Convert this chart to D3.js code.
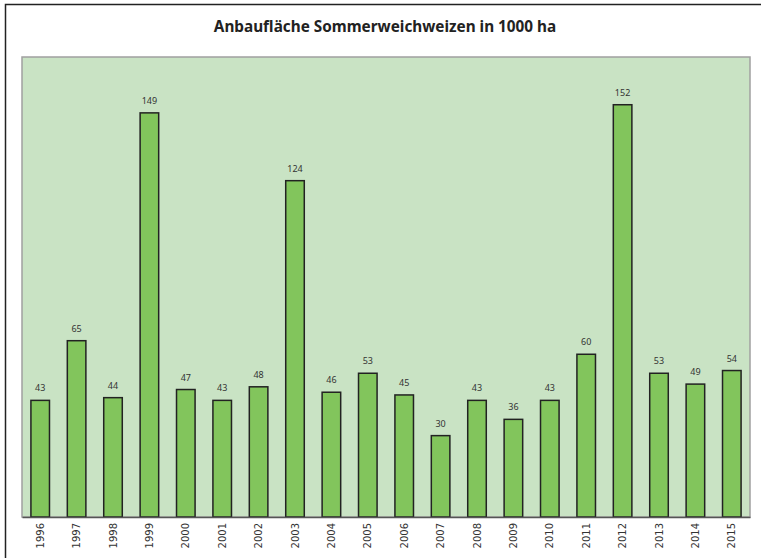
<!DOCTYPE html>
<html>
<head>
<meta charset="utf-8">
<script src="https://cdn.jsdelivr.net/npm/d3@7"></script>
<style>
  body { margin: 0; background: #fff; }
  svg { display: block; font-family: "Noto Sans", "DejaVu Sans", sans-serif; }
</style>
</head>
<body>
<svg id="chart"></svg>
<script>
// data
var years = ["1996","1997","1998","1999","2000","2001","2002","2003","2004","2005",
             "2006","2007","2008","2009","2010","2011","2012","2013","2014","2015"];
var area = [43, 65, 44, 149, 47, 43, 48, 124, 46, 53, 45, 30, 43, 36, 43, 60, 152, 53, 49, 54];

var screen = {width: 761, height: 558};
var plot = {left: 22, top: 57, right: 750, bottom: 517};

var svg = d3.select("#chart")
            .attr("width", screen.width)
            .attr("height", screen.height);

// outer frame (only top and left are visible in the picture)
svg.append("path")
   .attr("d", "M5.5," + screen.height + "V4.5H" + screen.width)
   .attr("fill", "none")
   .attr("stroke", "#222")
   .attr("stroke-width", 1.5);

svg.append("text")
   .attr("x", 385)
   .attr("y", 32)
   .attr("text-anchor", "middle")
   .attr("font-size", 15.3)
   .attr("font-weight", "bold")
   .attr("fill", "#222")
   .text("Anbaufläche Sommerweichweizen in 1000 ha");

var xScale = d3.scaleBand()
               .domain(years)
               .range([plot.left, plot.right])
               .paddingInner(0.49)
               .paddingOuter(0.245);

var yScale = d3.scaleLinear()
               .domain([0, 169.6])
               .range([plot.bottom, plot.top]);

// plot area
svg.append("rect")
   .attr("x", plot.left)
   .attr("y", plot.top)
   .attr("width", plot.right - plot.left)
   .attr("height", plot.bottom - plot.top)
   .attr("fill", "#c9e3c4")
   .attr("stroke", "#a0a0a0")
   .attr("stroke-width", 1.5);

svg.append("g")
   .selectAll("rect")
   .data(area)
   .enter()
   .append("rect")
   .attr("x", function(d, i) { return xScale(years[i]); })
   .attr("y", function(d) { return yScale(d); })
   .attr("width", xScale.bandwidth())
   .attr("height", function(d) { return yScale(0) - yScale(d); })
   .attr("fill", "#82c55c")
   .attr("stroke", "#222")
   .attr("stroke-width", 1.5);

// value labels
svg.append("g")
   .selectAll("text")
   .data(area)
   .enter()
   .append("text")
   .attr("x", function(d, i) { return xScale(years[i]) + xScale.bandwidth() / 2; })
   .attr("y", function(d) { return yScale(d) - 9; })
   .attr("text-anchor", "middle")
   .attr("font-size", 9)
   .attr("fill", "#333")
   .text(function(d) { return d; });

// x axis
var xAxis = d3.axisBottom(xScale).tickSize(0).tickPadding(0);
var gx = svg.append("g")
            .attr("transform", "translate(0," + plot.bottom + ")")
            .call(xAxis);
gx.select(".domain").attr("stroke", "#555").attr("stroke-width", 1.5);
gx.selectAll("text")
  .attr("transform", "rotate(-90)")
  .attr("x", -6)
  .attr("y", 0)
  .attr("dy", "0.35em")
  .attr("text-anchor", "end")
  .attr("font-size", 10)
  .attr("font-family", "'DejaVu Sans', sans-serif")
  .attr("fill", "#333");
</script>
</body>
</html>
